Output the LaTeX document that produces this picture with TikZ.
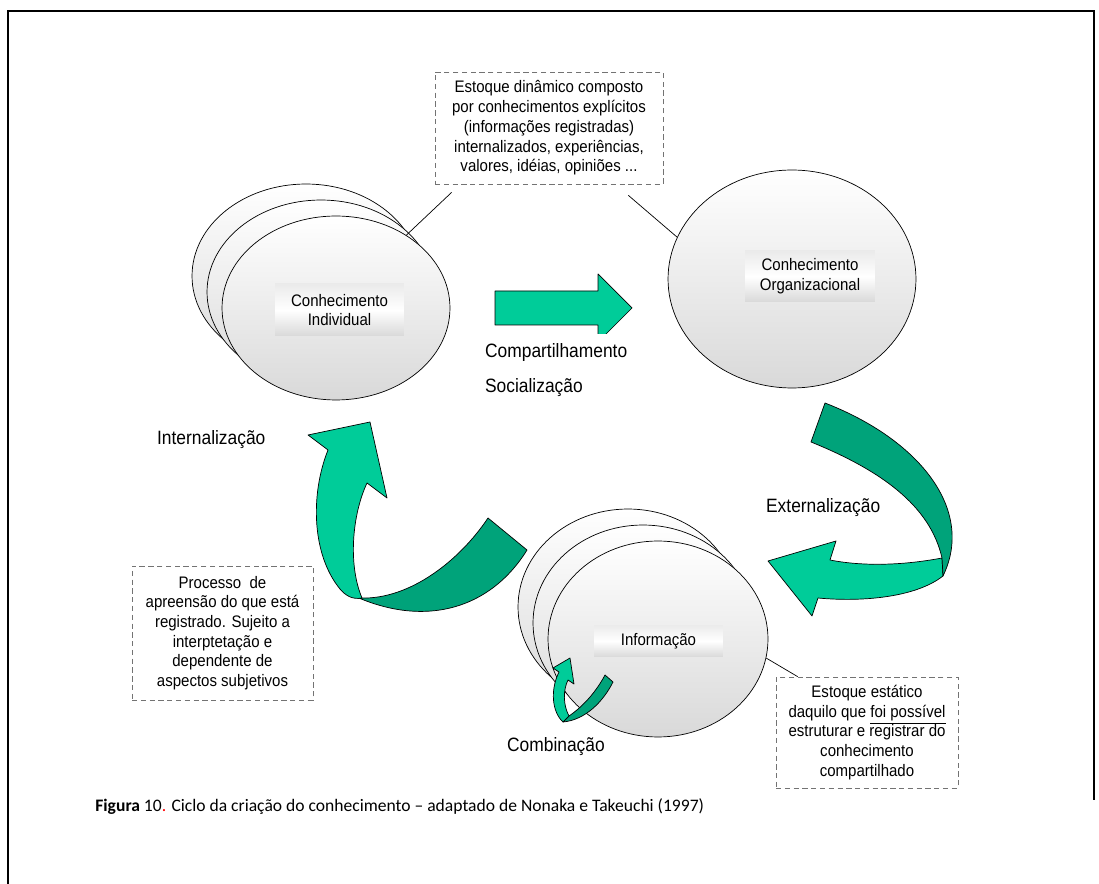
\documentclass[tikz,border=0pt]{standalone}
\usepackage{fontspec}
\usetikzlibrary{shapes.geometric}
\setmainfont{Liberation Sans}
\newfontfamily\diagfont[FakeStretch=0.9]{Liberation Sans}
\newfontfamily\capfont{Carlito}
\definecolor{lightgreen}{RGB}{0,204,153}
\definecolor{darkgreen}{RGB}{0,163,122}
\tikzset{
  blob/.style={ellipse, draw, thin, top color=white, bottom color=black!15, inner sep=0pt},
  tag/.style={font=\diagfont\fontsize{9.5}{11.3}\selectfont, align=center, top color=black!8, bottom color=black!15, middle color=white, inner sep=0pt},
  note/.style={draw=black!55, dash pattern=on 3pt off 2pt, fill=white, font=\diagfont\fontsize{9.5}{11.2}\selectfont, align=center, inner sep=0pt},
  stage/.style={font=\diagfont\fontsize{11}{13}\selectfont, anchor=west, inner sep=1pt},
  ribbon/.style={draw=black, thin, line join=round}
}

\begin{document}
\begin{tikzpicture}[x=0.02cm, y=-0.02cm]
\useasboundingbox (0,0) rectangle (1099,884);
\draw[line width=1.2pt] (8,884) -- (8,11) -- (1094,11) -- (1094,800);

\node[note, minimum width=4.56cm, minimum height=2.24cm] (stock) at (549,128)
  {Estoque dinâmico composto\\por conhecimentos explícitos\\(informações registradas)\\internalizados, experiências,\\valores, idéias, opiniões ...};

\foreach \k in {0,1,2}
  \node[blob, minimum width=4.56cm, minimum height=3.68cm] (ind\k) at ({306+15*\k},{276+16*\k}) {};
\node[tag, minimum width=2.58cm, minimum height=1.04cm] (indtag) at (339.5,310) {Conhecimento\\Individual};

\node[blob, minimum width=4.96cm, minimum height=4.36cm] (org) at (792,279) {};
\node[tag, minimum width=2.6cm, minimum height=1.02cm] (orgtag) at (810,276.5) {Conhecimento\\Organizacional};

\draw ([shift={(17,8)}]stock.south west) -- (ind2.46);
\draw ([shift={(-35,11)}]stock.south east) -- (org.160);

\filldraw[ribbon, fill=lightgreen] (495,291) -- (598,291) -- (598,274) -- (632,308) -- (598,342) -- (598,325) -- (495,325) -- cycle;
\node[stage, fill=white, inner ysep=5.5pt] (share) at (483,353) {Compartilhamento};
\node[stage] (social) at (483,388) {Socialização};

\filldraw[ribbon, fill=darkgreen] (360,598) .. controls (410,600) and (460,560) .. (488,518) -- (527,550) .. controls (490,610) and (420,632) .. (340,589) -- cycle;
\filldraw[ribbon, fill=lightgreen] (328,450) -- (308,435) -- (370,422) -- (387,498) -- (367,483) .. controls (352,515) and (348,565) .. (362,598) .. controls (352,600) and (345,595) .. (340,589) .. controls (312,555) and (310,495) .. (328,450) -- cycle;
\node[stage] (inter) at (155,440) {Internalização};

\filldraw[ribbon, fill=lightgreen] (942,558) .. controls (900,566) and (860,566) .. (830,560) -- (836,541) -- (768,561) -- (812,616) -- (818,598) .. controls (860,602) and (915,598) .. (943,576) -- cycle;
\filldraw[ribbon, fill=darkgreen] (825,403) .. controls (920,440) and (975,510) .. (943,576) -- (942,558) .. controls (930,505) and (880,470) .. (811,442) -- cycle;
\node[stage] (exter) at (764,508) {Externalização};

\foreach \k in {0,1,2}
  \node[blob, minimum width=4.4cm, minimum height=3.92cm] (info\k) at ({628+15*\k},{607+16*\k}) {};
\node[tag, minimum width=2.58cm, minimum height=0.64cm] (infotag) at (658.5,641) {Informação};

\filldraw[ribbon, fill=lightgreen] (570,658) -- (553,668) -- (559,672) .. controls (550,690) and (552,712) .. (563,722) -- (569,716) .. controls (563,705) and (563,690) .. (568,680) -- (574,684) -- cycle;
\filldraw[ribbon, fill=darkgreen] (569,716) .. controls (585,705) and (597,690) .. (605,675) -- (613,682) .. controls (603,702) and (585,720) .. (563,722) -- cycle;
\node[stage] (combi) at (505,747) {Combinação};

\node[note, minimum width=3.62cm, minimum height=2.68cm] (grasp) at (222.5,633)
  {Processo~ de\\apreensão do que está\\registrado. Sujeito a\\interptetação e\\dependente de\\aspectos subjetivos};

\node[note, minimum width=3.64cm, minimum height=2.22cm] (static) at (867,732.5)
  {Estoque estático\\daquilo que \underline{foi possível}\\estruturar e registrar do\\conhecimento\\compartilhado};
\draw (info2.-10) -- ([shift={(22,0)}]static.north west);

\node[anchor=west, inner sep=0pt, font=\capfont\fontsize{10}{12}\selectfont] (caption) at (95,807)
  {\textbf{Figura} 10\textcolor{red}{.} Ciclo da criação do conhecimento – adaptado de Nonaka e Takeuchi (1997)};
\end{tikzpicture}
\end{document}
